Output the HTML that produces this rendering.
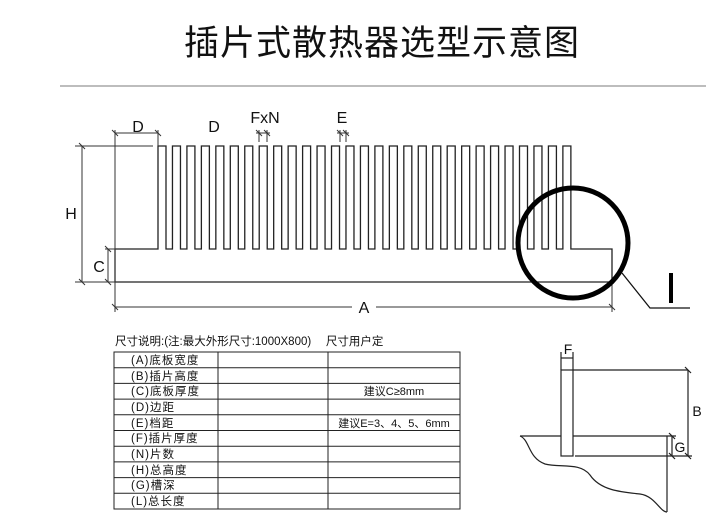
<!DOCTYPE html>
<html><head><meta charset="utf-8"><style>
html,body{margin:0;padding:0;background:#fff;}
svg{display:block;}
text{font-family:"Liberation Sans","Noto Sans CJK SC",sans-serif;fill:#111;}
</style></head><body>
<svg width="726" height="524" viewBox="0 0 726 524" xmlns="http://www.w3.org/2000/svg">
<text x="382" y="55" font-size="35" text-anchor="middle" style="letter-spacing:1px;font-weight:normal">插片式散热器选型示意图</text>
<line x1="60" y1="86" x2="706" y2="86" stroke="#bdbdbd" stroke-width="2"/>

<g fill="none" stroke="#222" stroke-width="1.3">
<path d="M115 249 H158 V146 h8 V249 h6.46 V146 h8 V249 h6.46 V146 h8 V249 h6.46 V146 h8 V249 h6.46 V146 h8 V249 h6.46 V146 h8 V249 h6.46 V146 h8 V249 h6.46 V146 h8 V249 h6.46 V146 h8 V249 h6.46 V146 h8 V249 h6.46 V146 h8 V249 h6.46 V146 h8 V249 h6.46 V146 h8 V249 h6.46 V146 h8 V249 h6.46 V146 h8 V249 h6.46 V146 h8 V249 h6.46 V146 h8 V249 h6.46 V146 h8 V249 h6.46 V146 h8 V249 h6.46 V146 h8 V249 h6.46 V146 h8 V249 h6.46 V146 h8 V249 h6.46 V146 h8 V249 h6.46 V146 h8 V249 h6.46 V146 h8 V249 h6.46 V146 h8 V249 h6.46 V146 h8 V249 h6.46 V146 h8 V249 h6.46 V146 h8 V249 H612 V282 H115 Z"/>
</g>
<g stroke="#333" stroke-width="1" fill="none">
<line x1="115" y1="130" x2="115" y2="312"/>
<line x1="158" y1="130" x2="158" y2="146"/>
<line x1="75" y1="146" x2="153" y2="146"/>
<line x1="75" y1="282" x2="115" y2="282"/>
<line x1="105" y1="249" x2="115" y2="249"/>
<line x1="612" y1="282" x2="612" y2="312"/>
<line x1="115" y1="133" x2="158" y2="133"/>
<line x1="112" y1="130" x2="118" y2="136"/><line x1="155" y1="130" x2="161" y2="136"/>
<line x1="82" y1="146" x2="82" y2="282"/>
<line x1="79" y1="143" x2="85" y2="149"/><line x1="79" y1="279" x2="85" y2="285"/>
<line x1="108" y1="249" x2="108" y2="282"/>
<line x1="105" y1="246" x2="111" y2="252"/><line x1="105" y1="279" x2="111" y2="285"/>
<line x1="115" y1="307" x2="352" y2="307"/><line x1="376" y1="307" x2="612" y2="307"/>
<line x1="112" y1="304" x2="118" y2="310"/><line x1="609" y1="304" x2="615" y2="310"/>
<line x1="259" y1="130" x2="259" y2="142"/><line x1="267" y1="130" x2="267" y2="142"/>
<line x1="256" y1="133" x2="270" y2="133"/>
<line x1="256" y1="130" x2="262" y2="136"/><line x1="264" y1="130" x2="270" y2="136"/>
<line x1="340" y1="130" x2="340" y2="142"/><line x1="346" y1="130" x2="346" y2="142"/>
<line x1="337" y1="133" x2="349" y2="133"/>
<line x1="337" y1="130" x2="343" y2="136"/><line x1="343" y1="130" x2="349" y2="136"/>
</g>
<g font-size="16" text-anchor="middle">
<text x="138" y="132">D</text>
<text x="214" y="132">D</text>
<text x="265" y="123">FxN</text>
<text x="342" y="123">E</text>
<text x="71" y="219">H</text>
<text x="99" y="272">C</text>
<text x="364" y="313">A</text>
</g>

<circle cx="573" cy="243" r="55" fill="none" stroke="#000" stroke-width="5"/>
<polyline points="622,273 650,308 690,308" fill="none" stroke="#111" stroke-width="1.3"/>
<rect x="669" y="273" width="4" height="30" fill="#000"/>

<text x="115" y="345" font-size="11.5">尺寸说明:(注:最大外形尺寸:1000X800)　 尺寸用户定</text>
<g stroke="#222" stroke-width="1" fill="none">
<rect x="114" y="352" width="346" height="157"/>
<line x1="218" y1="352" x2="218" y2="509"/>
<line x1="328" y1="352" x2="328" y2="509"/>
<line x1="114" y1="367.7" x2="460" y2="367.7"/>
<line x1="114" y1="383.4" x2="460" y2="383.4"/>
<line x1="114" y1="399.1" x2="460" y2="399.1"/>
<line x1="114" y1="414.8" x2="460" y2="414.8"/>
<line x1="114" y1="430.5" x2="460" y2="430.5"/>
<line x1="114" y1="446.2" x2="460" y2="446.2"/>
<line x1="114" y1="461.9" x2="460" y2="461.9"/>
<line x1="114" y1="477.6" x2="460" y2="477.6"/>
<line x1="114" y1="493.3" x2="460" y2="493.3"/>
</g>
<g font-size="11.5" style="letter-spacing:1px">
<text x="131" y="364">(A)底板宽度</text>
<text x="131" y="380">(B)插片高度</text>
<text x="131" y="395">(C)底板厚度</text>
<text x="131" y="411">(D)边距</text>
<text x="131" y="427">(E)档距</text>
<text x="131" y="442">(F)插片厚度</text>
<text x="131" y="458">(N)片数</text>
<text x="131" y="474">(H)总高度</text>
<text x="131" y="489">(G)槽深</text>
<text x="131" y="505">(L)总长度</text>
</g>
<g font-size="11">
<text x="394" y="395" text-anchor="middle">建议C≥8mm</text>
<text x="394" y="427" text-anchor="middle">建议E=3、4、5、6mm</text>
</g>

<g fill="none" stroke="#222" stroke-width="1.2">
<rect x="561" y="370" width="12" height="86"/>
<line x1="573" y1="370" x2="688" y2="370"/>
<line x1="688" y1="370" x2="688" y2="456"/>
<line x1="575" y1="456" x2="692" y2="456"/>
<line x1="520" y1="436" x2="561" y2="436"/>
<line x1="573" y1="436" x2="676" y2="436"/>
<line x1="667" y1="436" x2="667" y2="512"/>
<line x1="672" y1="436" x2="672" y2="456"/>
<path d="M520 436 C530 440 528 458 545 464 C560 468 580 462 590 475 C600 490 620 492 640 494 C655 496 660 512 667 512"/>
<line x1="561" y1="358" x2="573" y2="358"/>
<line x1="561" y1="352" x2="561" y2="370"/><line x1="573" y1="352" x2="573" y2="370"/>
<line x1="685" y1="367" x2="691" y2="373"/><line x1="685" y1="453" x2="691" y2="459"/>
<line x1="669" y1="433" x2="675" y2="439"/><line x1="669" y1="453" x2="675" y2="459"/>
</g>
<text x="568" y="354" font-size="14" text-anchor="middle">F</text>
<text x="697" y="416" font-size="14" text-anchor="middle">B</text>
<text x="680" y="452" font-size="14" text-anchor="middle">G</text>
</svg>
</body></html>
